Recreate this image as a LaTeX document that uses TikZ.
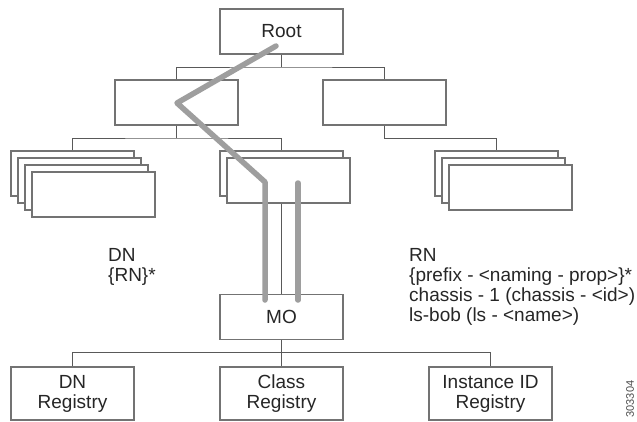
\documentclass[tikz,border=0pt]{standalone}
\usepackage{fontspec}
\setmainfont{Liberation Sans}
\begin{document}
\begin{tikzpicture}[x=1pt,y=-1pt,
  box/.style={draw=black!55, line width=1.1pt, fill=white, minimum width=123pt,
    minimum height=45pt, inner sep=0pt, font=\fontsize{19}{20}\selectfont, text=black!85},
  regbox/.style={box, minimum height=53pt, align=center},
  conn/.style={draw=black!65, line width=0.9pt},
  path/.style={draw=black!38, line width=5.5pt, line cap=round, line join=round},
  lbl/.style={inner sep=0pt, anchor=north west, align=left, font=\fontsize{19}{20}\selectfont, text=black!85}]
\useasboundingbox (0,0) rectangle (637,421);
% level 0 and 1
\node[box] (root) at (281.5,31.5) {Root};
\node[box] (l2a) at (176.5,102.5) {};
\node[box] (l2b) at (384.5,102.5) {};
% left stack
\node[box] (s1) at (72.5,173.5) {};
\node[box] (s2) at (79.5,180.5) {};
\node[box] (s3) at (86.5,187.5) {};
\node[box] (s4) at (93.5,194.5) {};
% middle stack
\node[box] (m1) at (281.5,173.5) {};
\node[box] (m2) at (288.5,180.5) {};
% right stack
\node[box] (r1) at (496.5,173.5) {};
\node[box] (r2) at (503.5,180.5) {};
\node[box] (r3) at (510.5,187.5) {};
% MO and registries
\node[box] (mo) at (281.5,317) {MO};
\node[regbox] (dnreg) at (72.5,393.5) {DN\\Registry};
\node[regbox] (classreg) at (281.5,393.5) {Class\\Registry};
\node[regbox] (instreg) at (490.5,393.5) {Instance ID\\Registry};
% junctions
\coordinate (j1) at (281.5,67);
\coordinate (j2) at (176.5,138);
\coordinate (j3) at (384.5,138);
\coordinate (j4) at (281.5,352.5);
% connectors
\draw[conn] (root.south) -- (j1);
\draw[conn] (l2a.north) |- (j1) -| (l2b.north);
\draw[conn] (l2a.south) -- (j2);
\draw[conn] (s1.north) |- (j2) -| (m1.north);
\draw[conn] (l2b.south) -- (j3) -| (r1.north);
\draw[conn] (m1.south |- m2.south) -- (mo.north);
\draw[conn] (mo.south) -- (j4);
\draw[conn] (dnreg.north) |- (j4) -| (instreg.north);
\draw[conn] (j4) -- (classreg.north);
% labels
\node[lbl] (dnlbl) at (108,248) {DN\\\{RN\}*};
\node[lbl] (rnlbl) at (409,248) {RN\\\{prefix - <naming - prop>\}*\\chassis - 1 (chassis - <id>)\\ls-bob (ls - <name>)};
\node[inner sep=0pt, rotate=90, font=\fontsize{11}{12}\selectfont, text=black!70] (fig) at (630,399) {303304};
% gray paths
\coordinate (g1) at (276,46);
\coordinate (g2) at (177,103);
\coordinate (g3) at (265,182);
\coordinate (g4) at (265,300);
\coordinate (g5) at (298,183);
\coordinate (g6) at (298,300);
\draw[path] (g1) -- (g2) -- (g3) -- (g4);
\draw[path] (g5) -- (g6);
\end{tikzpicture}
\end{document}
